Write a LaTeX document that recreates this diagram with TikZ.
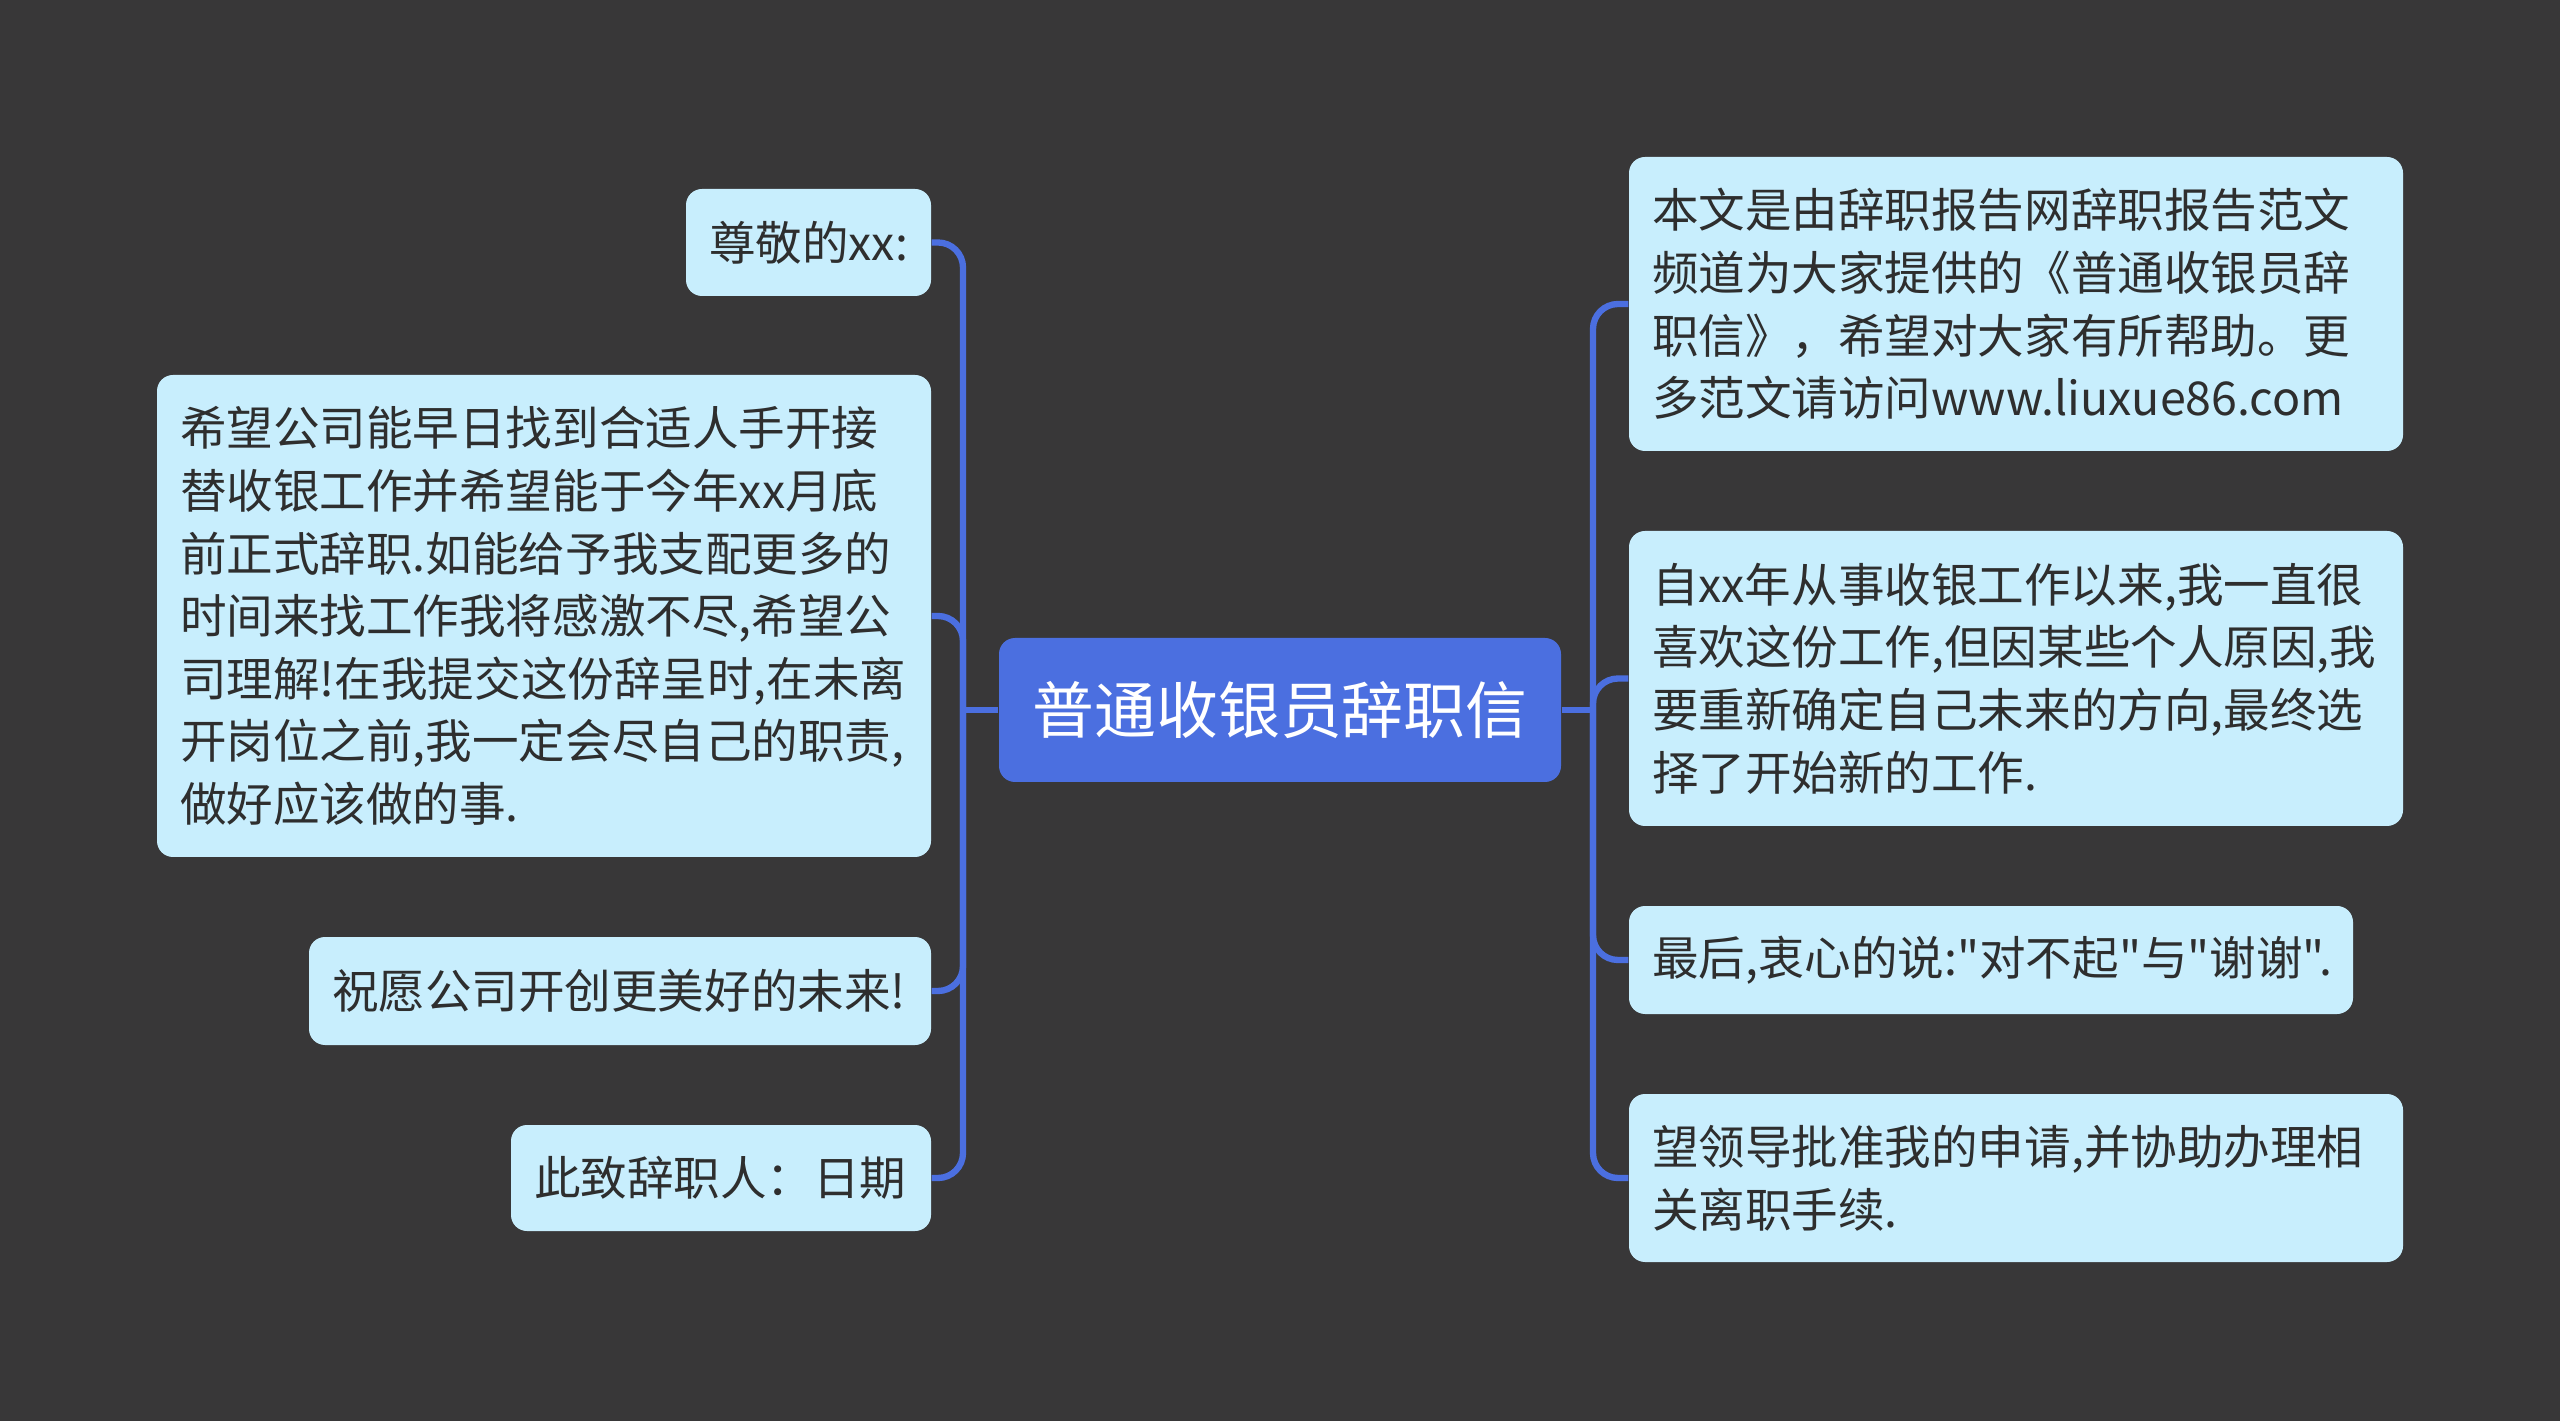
\documentclass[tikz,border=0pt]{standalone}
\usepackage{fontspec}
\setmainfont{Noto Sans CJK SC}[Ligatures=TeXOff]
\usetikzlibrary{positioning}
\definecolor{mapbg}{HTML}{383738}
\definecolor{mapblue}{HTML}{4B6FE0}
\definecolor{leafbg}{HTML}{C8EEFD}
\definecolor{leaftext}{HTML}{2E2E2E}

\begin{document}
\begin{tikzpicture}[
    leaf/.style={fill=leafbg, rounded corners=0.16cm, text=leaftext, font=\fontsize{13.25pt}{17.8pt}\selectfont,
                 align=left, inner xsep=0.23cm, inner ysep=0pt},
    link/.style={draw=mapblue, line width=1.8pt, rounded corners=0.25cm},
]

% Background
\fill[mapbg] (0,0) rectangle (25.6,-14.21);
\useasboundingbox (0,0) rectangle (25.6,-14.21);

% === Root ===
\node[fill=mapblue, rounded corners=0.16cm, text=white, font=\fontsize{17.6pt}{20pt}\selectfont,
      minimum width=5.62cm, minimum height=1.44cm] (root) at (12.80,-7.10) {普通收银员辞职信};

% === Left branch ===
\node[leaf, text width=1.99cm, minimum height=1.07cm] (l1) at (8.085,-2.425) {尊敬的xx:};
\node[leaf, text width=7.28cm, minimum height=4.82cm] (l2) at (5.44,-6.16)
      {希望公司能早日找到合适人手开接\\替收银工作并希望能于今年xx月底\\前正式辞职.如能给予我支配更多的\\时间来找工作我将感激不尽,希望公\\司理解!在我提交这份辞呈时,在未离\\开岗位之前,我一定会尽自己的职责,\\做好应该做的事.};
\node[leaf, text width=5.76cm, minimum height=1.08cm] (l3) at (6.20,-9.91) {祝愿公司开创更美好的未来!};
\node[leaf, text width=3.74cm, minimum height=1.06cm] (l4) at (7.21,-11.78) {此致辞职人：日期};

% === Right branch ===
\node[leaf, text width=7.28cm, minimum height=2.94cm] (r1) at (20.16,-3.04)
      {本文是由辞职报告网辞职报告范文\\频道为大家提供的《普通收银员辞\\职信》，希望对大家有所帮助。更\\多范文请访问www.liuxue86.com};
\node[leaf, text width=7.28cm, minimum height=2.95cm] (r2) at (20.16,-6.785)
      {自xx年从事收银工作以来,我一直很\\喜欢这份工作,但因某些个人原因,我\\要重新确定自己未来的方向,最终选\\择了开始新的工作.};
\node[leaf, text width=6.78cm, minimum height=1.08cm] (r3) at (19.91,-9.60) {最后,衷心的说:"对不起"与"谢谢".};
\node[leaf, text width=7.28cm, minimum height=1.68cm] (r4) at (20.16,-11.78)
      {望领导批准我的申请,并协助办理相\\关离职手续.};

% === Connectors ===
\coordinate (lhub) at (9.63,-7.10);
\coordinate (rhub) at (15.93,-7.10);
\draw[link] (root.west) -- (lhub);
\foreach \n in {l1,l2,l3,l4} {
    \draw[link] (lhub) |- (\n.east);
}
\draw[link] (root.east) -- (rhub);
\foreach \n in {r1,r2,r3,r4} {
    \draw[link] (rhub) |- (\n.west);
}

\end{tikzpicture}
\end{document}
